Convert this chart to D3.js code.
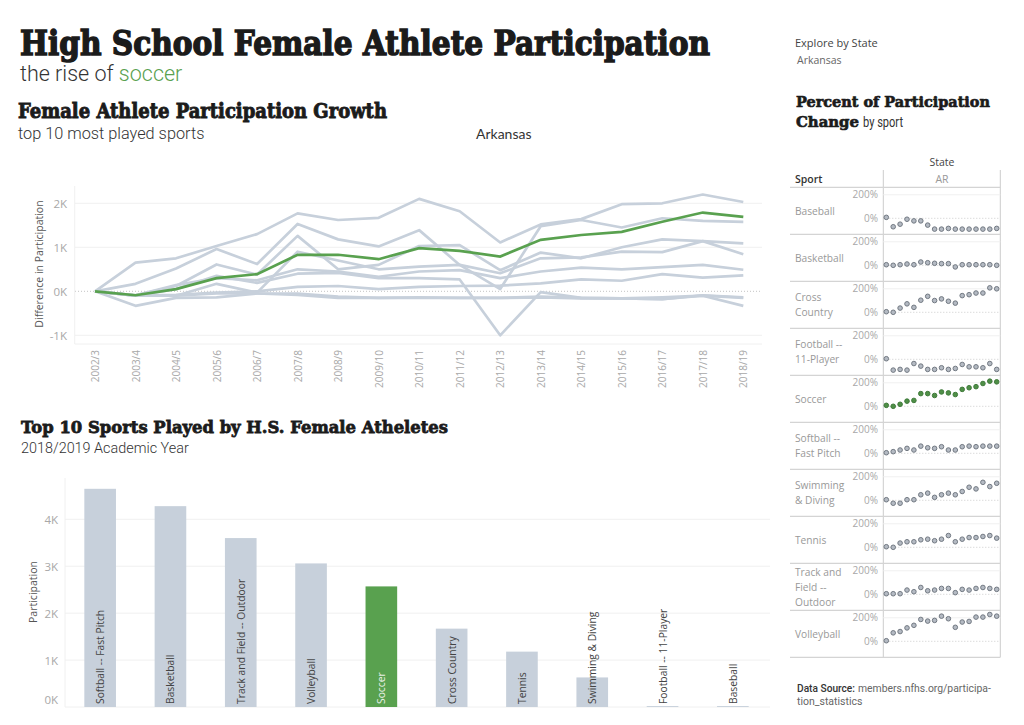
<!DOCTYPE html>
<html><head><meta charset="utf-8">
<script src="https://cdn.jsdelivr.net/npm/d3@7"></script>
<style>
html,body{margin:0;padding:0;background:#fff}
svg{display:block}
text{font-family:"Open Sans",sans-serif}
.slab{font-family:"DejaVu Serif",serif;font-weight:900;fill:#1b1b1b;stroke:#1b1b1b}
.din{font-family:"Roboto",sans-serif;font-weight:300;fill:#333}
</style></head><body><div id="c"></div>
<script>
const years=["2002/3","2003/4","2004/5","2005/6","2006/7","2007/8","2008/9","2009/10","2010/11","2011/12","2012/13","2013/14","2014/15","2015/16","2016/17","2017/18","2018/19"];
const growthVolleyball=[0,.65,.75,1.03,1.30,1.77,1.62,1.67,2.10,1.82,1.11,1.52,1.64,1.98,2.0,2.2,2.03];
const growthTrack=[0,.17,.52,.96,.62,1.53,1.18,1.02,1.39,.6,.05,1.48,1.62,1.45,1.66,1.6,1.58];
const growthSoccer=[0,-.09,.05,.30,.39,.83,.83,.73,.98,.92,.79,1.17,1.28,1.35,1.58,1.79,1.69];
const growthCross=[0,-.09,.12,.61,.38,1.26,.5,.6,1.03,1.05,.48,.88,.75,1.0,1.18,1.14,1.09];
const growthSoftball=[0,-.1,-.1,.17,-.03,.9,.7,.5,.56,.6,.41,.75,.77,.9,.89,1.14,.84];
const growthTennis=[0,-.09,.14,.3,.25,.5,.45,.33,.45,.48,.3,.45,.54,.5,.55,.6,.49];
const growthSwimming=[0,-.1,-.08,-.03,0,.1,.12,.05,.1,.12,.13,.18,.27,.24,.39,.31,.36];
const growthBasketball=[0,-.1,.05,.35,.19,.4,.42,.3,.3,.27,-1.0,-.02,-.15,-.16,-.18,-.09,-.14];
const growthBaseball=[0,-.33,-.15,-.14,-.05,-.05,-.12,-.15,-.15,-.15,-.15,-.14,-.16,-.16,-.18,-.1,-.33];
const growthFootball=[0,-.1,-.1,-.05,-.05,-.08,-.15,-.15,-.14,-.15,-.15,-.12,-.15,-.16,-.14,-.1,-.15];
const greyLines=[growthVolleyball,growthTrack,growthCross,growthSoftball,growthTennis,growthSwimming,growthBasketball,growthBaseball,growthFootball];
const growthTicks=[-1,0,1,2];

const barSports=["Softball -- Fast Pitch","Basketball","Track and Field -- Outdoor","Volleyball","Soccer","Cross Country","Tennis","Swimming & Diving","Football -- 11-Player","Baseball"];
const barValues=[4650,4280,3600,3060,2570,1670,1180,630,20,20];
const barTicks=[0,1000,2000,3000,4000];

const panelSports=["Baseball","Basketball","Cross|Country","Football --|11-Player","Soccer","Softball --|Fast Pitch","Swimming|& Diving","Tennis","Track and|Field --|Outdoor","Volleyball"];
const pctBaseball=[8,-72,-50,-8,-22,-22,-58,-92,-92,-86,-92,-92,-92,-92,-92,-92,-86];
const pctBasketball=[5,0,5,11,5,28,22,17,14,14,-14,5,5,5,5,5,0];
const pctCross=[5,0,36,72,42,103,136,100,114,94,78,142,150,164,164,208,200];
const pctFootball=[5,-92,-86,-92,-36,-58,-86,-86,-72,-86,-78,-44,-64,-64,-72,-36,-86];
const pctSoccer=[8,0,17,44,50,108,108,92,122,114,100,144,158,167,194,214,208];
const pctSoftball=[5,14,28,42,28,61,47,42,56,28,28,56,61,56,61,61,61];
const pctSwimming=[5,-25,-25,5,5,47,61,25,47,61,47,75,111,97,153,117,145];
const pctTennis=[5,0,36,47,47,64,69,56,69,100,47,69,83,83,92,100,78];
const pctTrack=[5,5,5,36,22,58,30,36,50,50,14,42,36,50,58,50,42];
const pctVolleyball=[5,72,83,114,136,186,172,178,214,192,119,164,169,206,206,228,214];
const panelValues=[pctBaseball,pctBasketball,pctCross,pctFootball,pctSoccer,pctSoftball,pctSwimming,pctTennis,pctTrack,pctVolleyball];

const GREEN="#59a14f",DGREEN="#4f8f47",GREY="#c7d0db",GRID="#f0f0f0",TICK="#a8a8a8",LAB="#555";
const svg=d3.select("#c").append("svg").attr("width",1024).attr("height",725);

function txt(x,y,s,size,cls,fill){const t=svg.append("text").attr("x",x).attr("y",y).attr("font-size",size).text(s);
 if(cls)t.attr("class",cls);if(fill)t.style("fill",fill);return t;}
function fit(t,w){return t.attr("textLength",w).attr("lengthAdjust","spacingAndGlyphs");}

// headings
fit(txt(20,55,"High School Female Athlete Participation",34,"slab").style("stroke-width",1.5),690);
const sub=txt(20,81,"the rise of ",21.5,"din");sub.append("tspan").style("fill",GREEN).text("soccer");
fit(txt(18,118,"Female Athlete Participation Growth",19.5,"slab").style("stroke-width",.9),369);
txt(18,139,"top 10 most played sports",16.3,"din");
txt(476,139,"Arkansas",14,null,"#333").style("font-family","Lato");
fit(txt(21,433,"Top 10 Sports Played by H.S. Female Atheletes",17.5,"slab").style("stroke-width",.8),427);
txt(21,453,"2018/2019 Academic Year",14.4,"din");
txt(795,47,"Explore by State",11,null,"#444");
txt(797,64,"Arkansas",10.5,null,"#666");
fit(txt(796,107,"Percent of Participation",15.5,"slab").style("stroke-width",.7),194);
fit(txt(796,127,"Change",15.5,"slab").style("stroke-width",.7),63);
fit(txt(863,127,"by sport",14,"din").style("font-weight",400),40);
fit(txt(797,692,"Data Source:",10.5,null,"#333").style("font-family","Roboto").style("font-weight",500),58);
txt(858,692,"members.nfhs.org/participa-",10.4,null,"#666").style("font-family","Roboto");
txt(797,705,"tion_statistics",10.5,null,"#666").style("font-family","Roboto");

// line chart
const x=d3.scalePoint().domain(years).range([95,743.3]);
const y=d3.scaleLinear().domain([-1,2]).range([335.3,203.3]);
const gl=svg.append("g");
gl.selectAll("line.g").data(growthTicks).join("line").attr("x1",75).attr("x2",762).attr("y1",d=>y(d)).attr("y2",d=>y(d))
 .attr("stroke",d=>d==0?"#c4c4c4":GRID).attr("stroke-dasharray",d=>d==0?"1 2":null);
gl.append("line").attr("x1",74.7).attr("x2",74.7).attr("y1",186).attr("y2",344).attr("stroke",GRID);
gl.append("line").attr("x1",74.7).attr("x2",762).attr("y1",344).attr("y2",344).attr("stroke",GRID);
gl.selectAll("text.t").data(growthTicks).join("text").attr("x",67).attr("y",d=>y(d)+4.5).attr("text-anchor","end")
 .attr("font-size",11.5).attr("fill",TICK).text(d=>d+"K");
gl.selectAll("text.y").data(years).join("text").attr("transform",d=>`translate(${x(d)+4},350) rotate(-90)`)
 .attr("text-anchor","end").attr("font-size",10).attr("fill",TICK).text(d=>d);
txt(0,0,"Difference in Participation",10.5,null,LAB).attr("text-anchor","middle").attr("transform","translate(43,264) rotate(-90)");
const lg=d3.line().x((d,i)=>x(years[i])).y(d=>y(d));
gl.selectAll("path.l").data(greyLines).join("path").attr("d",lg).attr("fill","none").attr("stroke",GREY).attr("stroke-width",2.7).attr("stroke-linejoin","round");
gl.append("path").datum(growthSoccer).attr("d",lg).attr("fill","none").attr("stroke",GREEN).attr("stroke-width",2.7);

// bars
const bx=d3.scaleBand().domain(barSports).range([65,768]).paddingInner(.55).paddingOuter(.275);
const by=d3.scaleLinear().domain([0,4000]).range([707,519.3]);
const gb=svg.append("g");
gb.selectAll("line.g").data(barTicks).join("line").attr("x1",65).attr("x2",770).attr("y1",d=>by(d)).attr("y2",d=>by(d)).attr("stroke",GRID);
gb.append("line").attr("x1",65).attr("x2",65).attr("y1",478).attr("y2",707).attr("stroke",GRID);
gb.selectAll("text.t").data(barTicks).join("text").attr("x",58).attr("y",d=>by(d)+4.5-(d==0?8:0)).attr("text-anchor","end").attr("font-size",11.5).attr("fill",TICK).text(d=>(d/1000)+"K");
txt(0,0,"Participation",10.5,null,LAB).attr("text-anchor","middle").attr("transform","translate(37,592) rotate(-90)");
gb.selectAll("rect").data(barSports).join("rect").attr("x",d=>bx(d)).attr("width",bx.bandwidth()).attr("y",(d,i)=>by(barValues[i])).attr("height",(d,i)=>by(0)-by(barValues[i]))
 .attr("fill",d=>d=="Soccer"?GREEN:GREY);
gb.selectAll("text.b").data(barSports).join("text").attr("transform",d=>`translate(${bx(d)+bx.bandwidth()/2+4},704) rotate(-90)`)
 .attr("font-size",10.3).attr("fill",d=>d=="Soccer"?"#e8f0e6":"#444").text(d=>d);

// small multiples
const L=883.3,R=1000.3,T=187.3,H=47;
const gp=svg.append("g");
const px=d3.scalePoint().domain(years).range([886.3,996.7]);
const rows=d3.range(panelSports.length);
txt(942,166,"State",10.5,null,"#444").attr("text-anchor","middle");
txt(795,183,"Sport",10.5,null,"#333").style("font-weight",600);
txt(942,183,"AR",10.5,null,"#999").attr("text-anchor","middle");
gp.append("line").attr("x1",L).attr("x2",L).attr("y1",170).attr("y2",T+H*10).attr("stroke","#ccc");
gp.append("line").attr("x1",R).attr("x2",R).attr("y1",170).attr("y2",T+H*10).attr("stroke","#ccc");
rows.forEach(r=>{
 const top=T+H*r, py=d3.scaleLinear().domain([0,200]).range([top+31,top+7.5]);
 const g=gp.append("g");
 g.append("line").attr("x1",790).attr("x2",R).attr("y1",top+H).attr("y2",top+H).attr("stroke","#d4d4d4").attr("stroke-width",1.2);
 g.append("line").attr("x1",L).attr("x2",R).attr("y1",py(200)).attr("y2",py(200)).attr("stroke",GRID);
 g.append("line").attr("x1",L).attr("x2",R).attr("y1",py(0)).attr("y2",py(0)).attr("stroke","#ccc").attr("stroke-dasharray","1 2");
 [200,0].forEach(v=>g.append("text").attr("x",878).attr("y",py(v)+3.5).attr("text-anchor","end").attr("font-size",10).attr("fill",TICK).text(v+"%"));
 const parts=panelSports[r].split("|"), lh=14.7, cy=top+H/2+.5;
 parts.forEach((p,k)=>g.append("text").attr("x",795).attr("y",cy+(k-(parts.length-1)/2)*lh+3.5).attr("font-size",10.2).attr("fill","#999").text(p));
 const soccer=panelSports[r]=="Soccer";
 g.selectAll("circle").data(panelValues[r]).join("circle").attr("cx",(d,i)=>px(years[i])).attr("cy",d=>py(d)).attr("r",2.3)
  .attr("fill",soccer?DGREEN:"#b4bac3").attr("stroke",soccer?"#3f7a3a":"#727982").attr("stroke-width",1);
});
gp.append("line").attr("x1",790).attr("x2",R).attr("y1",T).attr("y2",T).attr("stroke","#d4d4d4").attr("stroke-width",1.2);
</script></body></html>
